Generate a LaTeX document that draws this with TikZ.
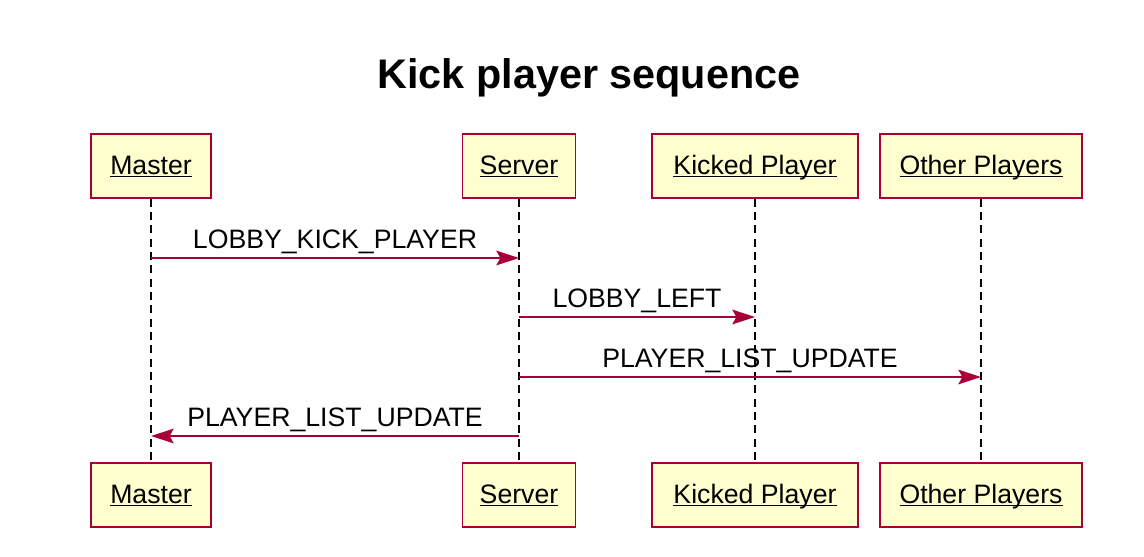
\documentclass[tikz,border=0pt]{standalone}
\usepackage{fontspec}
\setmainfont{Liberation Sans}
\usetikzlibrary{arrows.meta}
\definecolor{umlred}{RGB}{168,0,54}
\definecolor{umlyellow}{RGB}{254,254,206}
\newcommand{\actorname}[1]{\underline{\raisebox{0pt}[\height][0pt]{#1}}}
\begin{document}
\begin{tikzpicture}[x=0.75pt,y=0.75pt,yscale=-1,xscale=1,
    actor/.style={draw=umlred,fill=umlyellow,line width=1.2pt,inner sep=0pt,minimum height=48pt,text height=15pt,text depth=3pt,font=\fontsize{20}{24}\selectfont},
    lifeline/.style={draw=black,line width=1.1pt,dash pattern=on 6pt off 4pt},
    msg/.style={draw=umlred,line width=1.1pt,-{Stealth[length=17pt,width=11pt,inset=3pt]}},
    msglabel/.style={anchor=south,inner sep=0.75pt,yshift=1.5pt,font=\fontsize{20}{24}\selectfont}]
    \useasboundingbox (0,0) rectangle (1144,556);
    % Text Node
    \draw (589,78) node [font=\bfseries\fontsize{31}{36}\selectfont] (title) {Kick player sequence};
    %Shape: Rectangle [top participants]
    \node [actor,minimum width=90pt] (mtop) at (151,166) {\actorname{Master}};
    \node [actor,minimum width=84.75pt] (stop) at (519,166) {\actorname{Server}};
    \node [actor,minimum width=154.5pt] (ktop) at (755,166) {\actorname{Kicked Player}};
    \node [actor,minimum width=151.5pt] (otop) at (981,166) {\actorname{Other Players}};
    %Shape: Rectangle [bottom participants]
    \node [actor,minimum width=90pt] (mbot) at (151,495) {\actorname{Master}};
    \node [actor,minimum width=84.75pt] (sbot) at (519,495) {\actorname{Server}};
    \node [actor,minimum width=154.5pt] (kbot) at (755,495) {\actorname{Kicked Player}};
    \node [actor,minimum width=151.5pt] (obot) at (981,495) {\actorname{Other Players}};
    %Straight Lines [lifelines]
    \draw [lifeline] (mtop.south) -- (mbot.north);
    \draw [lifeline] (stop.south) -- (sbot.north);
    \draw [lifeline] (ktop.south) -- (kbot.north);
    \draw [lifeline] (otop.south) -- (obot.north);
    %Straight Lines [messages]
    \coordinate (m1) at (151,258);
    \coordinate (s1) at (519,258);
    \coordinate (s2) at (519,317);
    \coordinate (k2) at (755,317);
    \coordinate (s3) at (519,377);
    \coordinate (o3) at (981,377);
    \coordinate (s4) at (519,436);
    \coordinate (m4) at (151,436);
    \draw [msg] (m1) -- (s1) node [msglabel,midway,text=black] {LOBBY\_KICK\_PLAYER};
    \draw [msg] (s2) -- (k2) node [msglabel,midway,text=black] {LOBBY\_LEFT};
    \draw [msg] (s3) -- (o3) node [msglabel,midway,text=black] {PLAYER\_LIST\_UPDATE};
    \draw [msg] (s4) -- (m4) node [msglabel,midway,text=black] {PLAYER\_LIST\_UPDATE};
\end{tikzpicture}
\end{document}
